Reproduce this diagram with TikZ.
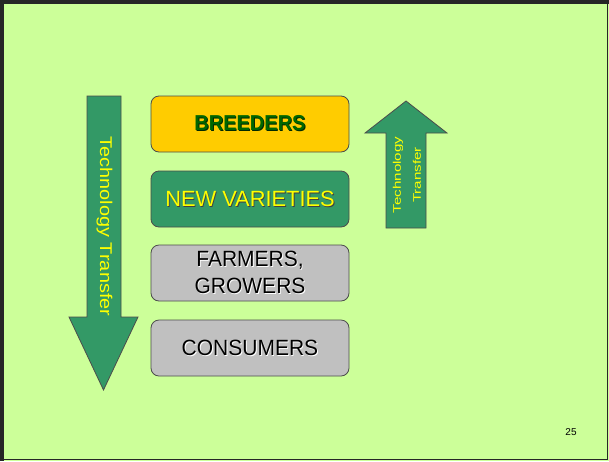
\documentclass[tikz,border=0pt]{standalone}
\usepackage{fontspec}
\setmainfont{Liberation Sans}
\usepackage{graphicx}
\definecolor{bgc}{HTML}{CCFF99}
\definecolor{arrg}{HTML}{339966}
\definecolor{boxy}{HTML}{FFCC00}
\definecolor{boxg}{HTML}{C0C0C0}
\definecolor{dkg}{HTML}{006600}
\definecolor{txy}{HTML}{FFFF00}
\newcommand\shd[3]{\leavevmode\rlap{\kern0.9pt\raisebox{-0.9pt}{\textcolor{#2}{#3}}}\textcolor{#1}{#3}}
\begin{document}
\begin{tikzpicture}[x=1pt,y=-1pt,
  boxst/.style={draw=black!70,line width=0.8pt,rounded corners=8pt,minimum width=198pt,minimum height=56pt,inner sep=0pt,align=center,font=\fontsize{21}{27}\selectfont},
  arrst/.style={draw=black!70,line width=0.8pt,fill=arrg},
  lbl/.style={inner sep=0pt,text=txy}]
\useasboundingbox (0,0) rectangle (609,461);
\fill[bgc] (0,0) rectangle (609,461);
% frame
\draw[black!85,line width=3.5pt] (1.75,461) -- (1.75,1.75) -- (609,1.75);
\draw[black!85,line width=1.5pt] (607.5,0) -- (607.5,459.5) -- (0,459.5);
% left arrow
\draw[arrst] (87,96) -- (121,96) -- (121,317) -- (138,317) -- (103.5,390) -- (69,317) -- (87,317) -- cycle;
\node[lbl,rotate=-90,font=\fontsize{17}{20}\selectfont] (lt) at (104.5,226.5) {\scalebox{1.17}[1]{Technology Transfer}};
% right arrow
\draw[arrst] (386,228) -- (386,133) -- (365,133) -- (406,101) -- (447,133) -- (426,133) -- (426,228) -- cycle;
\node[lbl,rotate=90,font=\fontsize{11}{20}\selectfont,align=center] (rt) at (407,175) {\scalebox{1.38}[1]{Technology}\\\scalebox{1.38}[1]{Transfer}};
% boxes
\node[boxst,fill=boxy] (b1) at (250,124) {\shd{dkg}{black!60!dkg}{\fontsize{20}{27}\selectfont\bfseries\scalebox{1}[1.08]{BREEDERS}}};
\node[boxst,fill=arrg] (b2) at (250,199) {\shd{txy}{black!75}{\scalebox{1.04}[1.05]{NEW VARIETIES}}};
\node[boxst,fill=boxg] (b3) at (250,273) {\shd{black}{white}{\scalebox{1}[1.05]{FARMERS,}}\\\shd{black}{white}{\scalebox{1}[1.05]{GROWERS}}};
\node[boxst,fill=boxg] (b4) at (250,348) {\shd{black}{white}{\scalebox{1}[1.05]{CONSUMERS}}};
\node[inner sep=0pt,font=\fontsize{10}{12}\selectfont] (pg) at (571,432) {25};
\end{tikzpicture}
\end{document}
